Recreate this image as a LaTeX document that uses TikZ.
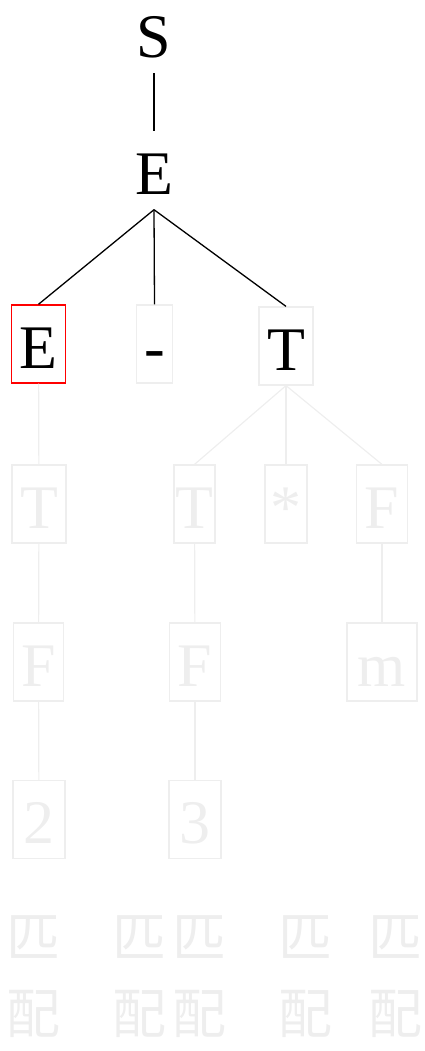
\documentclass[tikz,border=0pt]{standalone}
\usepackage{fontspec}
\setmainfont{Liberation Serif}
\newfontfamily\cjk{Noto Sans CJK SC}
\usepackage{xcolor}
\usetikzlibrary{positioning}

\definecolor{faded}{HTML}{EEEEEE}

\begin{document}
\begin{tikzpicture}[x=1pt, y=-1pt,
    sym/.style={minimum height=78pt, inner xsep=8pt, text height=48pt,
      text depth=0pt, font=\fontsize{62}{62}\selectfont},
    done/.style={sym, draw=none, text=black},
    cur/.style={sym, draw=red, line width=1.4pt, text=black},
    seen/.style={sym, draw=faded, line width=1.2pt, text=black},
    todo/.style={sym, draw=faded, line width=1.2pt, text=faded},
    match/.style={align=center, text=faded, font=\cjk\fontsize{54}{76}\selectfont},
    edge/.style={line width=1.3pt, black},
    fedge/.style={line width=1.2pt, faded}]
  \useasboundingbox (0,0) rectangle (424,1051);
  % derivation so far
  \node[done] (s) at (154,34) {S};
  \node[done] (e0) at (154,170.5) {E};
  \node[cur] (e1) at (38.5,344) {E};
  \node[seen] (minus) at (154.5,344) {-};
  \node[seen] (t1) at (286,346) {T};
  \draw[edge] (s) -- (e0);
  \draw[edge] (e0.south) -- (e1.north);
  \draw[edge] (e0.south) -- (minus.north);
  \draw[edge] (e0.south) -- (t1.north);
  % rest of the tree
  \node[todo] (t2) at (39,504) {T};
  \node[todo, inner xsep=0pt, minimum width=41pt] (t3) at (194.5,504) {T};
  \node[todo, inner xsep=0pt, minimum width=42pt] (star) at (286,504) {*};
  \node[todo] (f1) at (382,504) {F};
  \node[todo] (f2) at (38.5,662) {F};
  \node[todo] (f3) at (195,662) {F};
  \node[todo, minimum width=70pt] (m) at (382,662) {m};
  \node[todo, minimum width=52pt] (two) at (39,819.5) {2};
  \node[todo, minimum width=52pt] (three) at (195,819.5) {3};
  \draw[fedge] (e1) -- (t2);
  \draw[fedge] (t1.south) -- (t3.north);
  \draw[fedge] (t1.south) -- (star.north);
  \draw[fedge] (t1.south) -- (f1.north);
  \draw[fedge] (t2) -- (f2);
  \draw[fedge] (t3) -- (f3);
  \draw[fedge] (f1) -- (m);
  \draw[fedge] (f2) -- (two);
  \draw[fedge] (f3) -- (three);
  % matches
  \node[match] (m1) at (33,977) {匹\\配};
  \node[match] (m2) at (139,977) {匹\\配};
  \node[match] (m3) at (199,977) {匹\\配};
  \node[match] (m4) at (305,977) {匹\\配};
  \node[match] (m5) at (395,977) {匹\\配};
\end{tikzpicture}
\end{document}
